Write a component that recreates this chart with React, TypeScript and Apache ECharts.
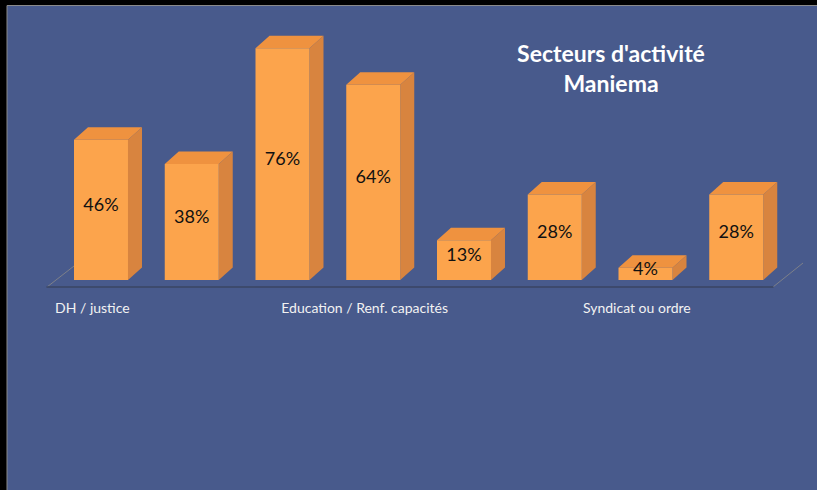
import React, { useEffect, useRef } from "react";
import * as echarts from "echarts";

const categories = [
  "DH / justice",
  "",
  "",
  "Education / Renf. capacités",
  "",
  "",
  "Syndicat ou ordre",
  "",
];
const values = [46, 38, 76, 64, 13, 28, 4, 28];
const titleLines = ["Secteurs d'activité", "Maniema"];

const W = 817;
const H = 490;
const GRID_L = 47;
const GRID_R = 44;
const AXIS_Y = 287;
const GRID_TOP = 43;
const LIFT = 7;
const DX = 14;
const DY = -12.5;
const FRONT = "#FCA44C";
const TOP = "#EF923F";
const SIDE = "#D8843F";
const BG = "#485A8C";

export default function App() {
  const ref = useRef<HTMLDivElement>(null);
  useEffect(() => {
    document.body.style.margin = "0";
    if (!ref.current) return;
    const chart = echarts.init(ref.current, undefined, { renderer: "svg" });
    const data = values.map((v, i) => [i, v]);
    chart.setOption({
      animation: false,
      backgroundColor: "#000000",
      graphic: [
        {
          type: "rect",
          z: -10,
          shape: { x: 7, y: 5.5, width: W, height: H },
          style: { fill: BG, stroke: "#8a8a8a", lineWidth: 1 },
        },
        {
          type: "line",
          shape: { x1: GRID_L, y1: AXIS_Y, x2: GRID_L + 27, y2: AXIS_Y - 21 },
          style: { stroke: "#7d8089", lineWidth: 1 },
        },
        {
          type: "line",
          shape: { x1: W - GRID_R, y1: AXIS_Y, x2: W - GRID_R + 30, y2: AXIS_Y - 24 },
          style: { stroke: "#7d8089", lineWidth: 1 },
        },
        {
          type: "text",
          x: 611,
          y: 38,
          style: {
            text: titleLines.join("\n"),
            fill: "#ffffff",
            font: "bold 23px Lato",
            lineHeight: 30,
            textAlign: "center",
            textVerticalAlign: "top",
          },
        },
      ],
      grid: { left: GRID_L, right: GRID_R, top: GRID_TOP, bottom: H - AXIS_Y },
      xAxis: {
        type: "category",
        data: categories,
        axisTick: { show: false },
        axisLine: { lineStyle: { color: "#3a4563", width: 1.5 } },
        axisLabel: {
          interval: 0,
          color: "#f2f2f2",
          fontFamily: "Lato",
          fontSize: 14,
          margin: 13,
        },
      },
      yAxis: { type: "value", min: 0, max: 80, show: false, splitLine: { show: false } },
      series: [
        {
          type: "custom",
          data,
          encode: { x: 0, y: 1 },
          renderItem: (params: any, api: any) => {
            const i = api.value(0);
            const v = api.value(1);
            const top = api.coord([i, v]);
            const base = api.coord([i, 0]);
            const band = api.size([1, 0])[0];
            const w = band * 0.595;
            const cx = top[0] + band * 0.095;
            const x0 = cx - w / 2;
            const x1 = cx + w / 2;
            const yT = top[1] - LIFT;
            const yB = base[1] - LIFT;
            return {
              type: "group",
              children: [
                {
                  type: "polygon",
                  shape: { points: [[x1, yB], [x1 + DX, yB + DY], [x1 + DX, yT + DY], [x1, yT]] },
                  style: { fill: SIDE },
                },
                {
                  type: "polygon",
                  shape: { points: [[x0, yT], [x0 + DX, yT + DY], [x1 + DX, yT + DY], [x1, yT]] },
                  style: { fill: TOP },
                },
                {
                  type: "rect",
                  shape: { x: x0, y: yT, width: w, height: yB - yT },
                  style: { fill: FRONT },
                },
                {
                  type: "text",
                  x: cx,
                  y: (yT + yB) / 2 - 6,
                  style: {
                    text: v + "%",
                    fill: "#111111",
                    font: "18px Lato",
                    textAlign: "center",
                    textVerticalAlign: "middle",
                  },
                },
              ],
            };
          },
        },
      ],
    });
    return () => chart.dispose();
  }, []);
  return <div ref={ref} style={{ width: W, height: H }} />;
}
